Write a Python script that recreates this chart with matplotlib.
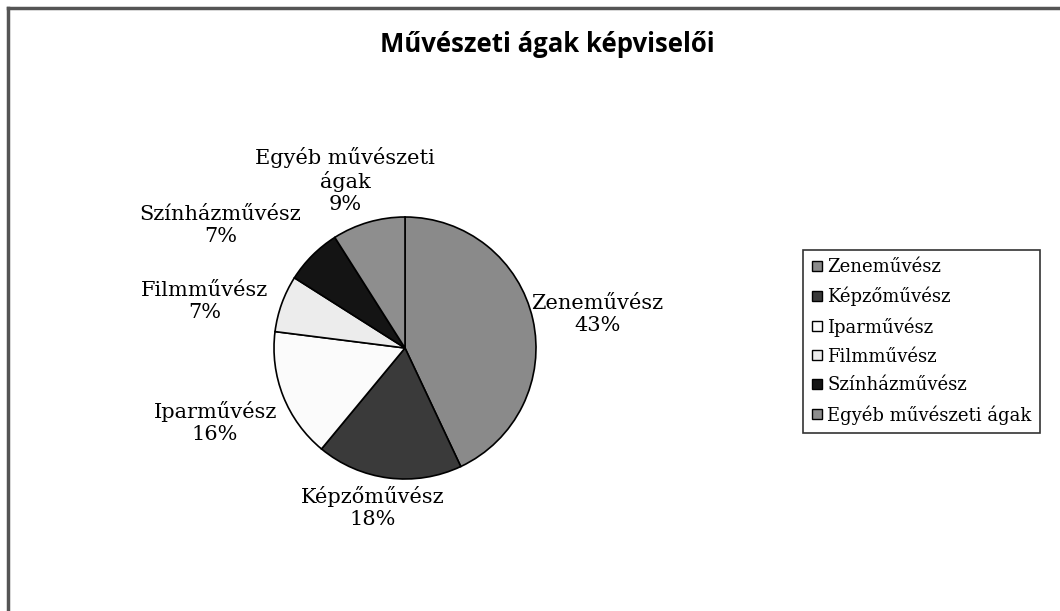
import numpy as np
import matplotlib.pyplot as plt
from matplotlib.lines import Line2D

labels = ['Zeneművész', 'Képzőművész', 'Iparművész', 'Filmművész', 'Színházművész', 'Egyéb művészeti ágak']
values = [43, 18, 16, 7, 7, 9]
colors = ['#8a8a8a', '#3a3a3a', '#fbfbfb', '#ececec', '#141414', '#8e8e8e']
pie_text = ['Zeneművész\n43%', 'Képzőművész\n18%', 'Iparművész\n16%', 'Filmművész\n7%',
            'Színházművész\n7%', 'Egyéb művészeti\nágak\n9%']
# how far out each label sits (in radii) and how far it is turned from the wedge middle
label_dist = [1.49, 1.245, 1.556, 1.57, 1.69, 1.36]
label_shift = [-2.75, -4.1, -0.3, 6.8, 11.4, 3.5]  # degrees

W, H = 1060, 611
fig = plt.figure(figsize=(W / 100, H / 100), dpi=100)

# pie axes: centre (405, 348), radius 131 px
cx, cy, r = 405, 348, 131
ax = fig.add_axes([(cx - r) / W, (H - cy - r) / H, 2 * r / W, 2 * r / H])
wedges, _ = ax.pie(values, colors=colors, startangle=90, counterclock=False,
                   wedgeprops=dict(edgecolor='black', linewidth=1.2))
ax.set_xlim(-1, 1)
ax.set_ylim(-1, 1)
ax.set_aspect('equal')
ax.axis('off')

for w, txt, d, s in zip(wedges, pie_text, label_dist, label_shift):
    ang = np.deg2rad((w.theta1 + w.theta2) / 2 + s)
    ax.text(d * np.cos(ang), d * np.sin(ang), txt, ha='center', va='center',
            family='DejaVu Serif', fontsize=15, linespacing=1.2, clip_on=False)

fig.text(547 / W, 1 - 45 / H, 'Művészeti ágak képviselői', ha='center', va='center',
         family='Open Sans', fontweight='bold', fontsize=18.5)

handles = [Line2D([], [], marker='s', linestyle='none', markersize=7.5,
                  markerfacecolor=c, markeredgecolor='black', markeredgewidth=1)
           for c in colors]
leg = fig.legend(handles, labels, loc='upper left',
                 bbox_to_anchor=(803 / W, 1 - 250 / H),
                 prop=dict(family='DejaVu Serif', size=13),
                 frameon=True, fancybox=False, edgecolor='black',
                 handlelength=0.6, handletextpad=0.3, labelspacing=0.6,
                 borderpad=0.45, borderaxespad=0)
leg.get_frame().set_linewidth(1.2)

# outer chart border (only top and left visible)
fig.add_artist(Line2D([8 / W, 8 / W], [0, 1 - 8 / H], color='#555555', linewidth=2.5))
fig.add_artist(Line2D([8 / W, 1], [1 - 8 / H, 1 - 8 / H], color='#555555', linewidth=2.5))

fig.savefig('out.png', dpi=100)
